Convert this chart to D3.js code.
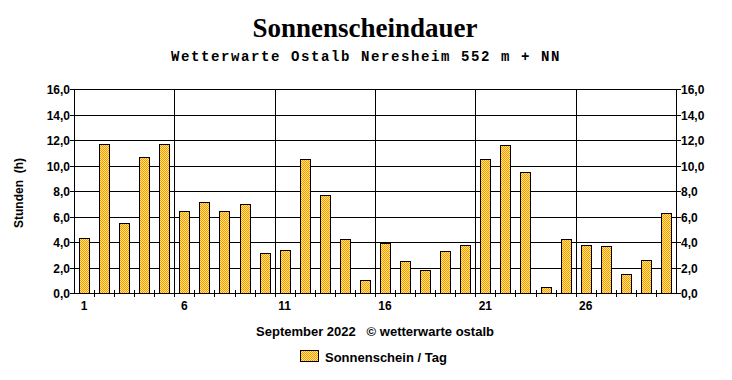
<!DOCTYPE html>
<html><head><meta charset="utf-8">
<script src="https://cdn.jsdelivr.net/npm/d3@7"></script>
<style>html,body{margin:0;padding:0;background:#fff;}svg{display:block;}</style>
</head><body>
<script>
const days = d3.range(1, 31);
const sunshine = [4.3, 11.7, 5.5, 10.7, 11.7, 6.4, 7.1, 6.4, 7.0, 3.1,
                  3.4, 10.5, 7.7, 4.2, 1.0, 3.9, 2.5, 1.8, 3.3, 3.8,
                  10.5, 11.6, 9.5, 0.5, 4.2, 3.8, 3.7, 1.5, 2.6, 6.3];
const yTicks = [0, 2, 4, 6, 8, 10, 12, 14, 16];
const xLabelDays = [1, 6, 11, 16, 21, 26];
const title = "Sonnenscheindauer";
const subtitle = "Wetterwarte Ostalb Neresheim 552 m + NN";
const yTitle = "Stunden  (h)";
const footer = "September 2022   \u00A9 wetterwarte ostalb";
const legendLabel = "Sonnenschein / Tag";

const W = 732, H = 380;
const L = 74, R = 676, T = 89, B = 293;

const svg = d3.select("body").append("svg").attr("width", W).attr("height", H);
const defs = svg.append("defs");
const pat = defs.append("pattern").attr("id", "chk").attr("width", 2).attr("height", 2)
  .attr("patternUnits", "userSpaceOnUse");
pat.append("rect").attr("width", 2).attr("height", 2).attr("fill", "#ffe680");
pat.append("rect").attr("width", 1).attr("height", 1).attr("fill", "#ff9900");
pat.append("rect").attr("x", 1).attr("y", 1).attr("width", 1).attr("height", 1).attr("fill", "#ff9900");

const x = d3.scaleBand().domain(days).range([L, R]).paddingInner(0.5).paddingOuter(0.25);
const y = d3.scaleLinear().domain([0, 16]).range([B, T]);
const step = x.step();
const edge = d => L + (d - 1) * step;

// horizontal gridlines
svg.append("g").selectAll("line").data(yTicks).join("line")
  .attr("x1", L).attr("x2", R)
  .attr("y1", d => Math.round(y(d)) + 0.5).attr("y2", d => Math.round(y(d)) + 0.5)
  .attr("stroke", "#000").attr("stroke-width", 1);
// vertical gridlines
svg.append("g").selectAll("line").data(xLabelDays.slice(1)).join("line")
  .attr("x1", d => Math.round(edge(d)) + 0.5).attr("x2", d => Math.round(edge(d)) + 0.5)
  .attr("y1", T).attr("y2", B)
  .attr("stroke", "#000");

// bars
svg.append("g").selectAll("rect").data(days).join("rect")
  .attr("x", d => Math.round(x(d)) + 0.5)
  .attr("width", Math.round(x.bandwidth()))
  .attr("y", (d, i) => Math.round(y(sunshine[i])) + 0.5)
  .attr("height", (d, i) => Math.round(y(0)) - Math.round(y(sunshine[i])))
  .attr("fill", "url(#chk)").attr("stroke", "#000").attr("stroke-width", 1);

// axes lines
svg.append("line").attr("x1", L + 0.5).attr("x2", L + 0.5).attr("y1", T).attr("y2", B + 1).attr("stroke", "#000");
svg.append("line").attr("x1", R + 0.5).attr("x2", R + 0.5).attr("y1", T).attr("y2", B + 1).attr("stroke", "#000");
svg.append("line").attr("x1", L).attr("x2", R + 1).attr("y1", B + 0.5).attr("y2", B + 0.5).attr("stroke", "#000");

// y ticks and labels
const fmt = d => d.toFixed(1).replace(".", ",");
const yl = svg.append("g");
yTicks.forEach(d => {
  const yy = Math.round(y(d)) + 0.5;
  yl.append("line").attr("x1", L - 4).attr("x2", L).attr("y1", yy).attr("y2", yy).attr("stroke", "#000");
  yl.append("line").attr("x1", R).attr("x2", R + 5).attr("y1", yy).attr("y2", yy).attr("stroke", "#000");
  yl.append("text").attr("x", L - 4).attr("y", yy + 4.5).attr("text-anchor", "end")
    .attr("font-family", "Liberation Sans, Arial, sans-serif").attr("font-weight", "bold").attr("font-size", 12).text(fmt(d));
  yl.append("text").attr("x", R + 5).attr("y", yy + 4.5).attr("text-anchor", "start")
    .attr("font-family", "Liberation Sans, Arial, sans-serif").attr("font-weight", "bold").attr("font-size", 12).text(fmt(d));
});

// x ticks at each day boundary
svg.append("g").selectAll("line").data(d3.range(2, 31)).join("line")
  .attr("x1", d => Math.round(edge(d)) + 0.5).attr("x2", d => Math.round(edge(d)) + 0.5)
  .attr("y1", B - 3).attr("y2", B + 4).attr("stroke", "#000");

// x labels
svg.append("g").selectAll("text").data(xLabelDays).join("text")
  .attr("x", d => x(d) + x.bandwidth() / 2).attr("y", B + 17)
  .attr("text-anchor", "middle")
  .attr("font-family", "Liberation Sans, Arial, sans-serif").attr("font-weight", "bold").attr("font-size", 12)
  .text(d => d);

// titles
svg.append("text").attr("x", 365).attr("y", 37).attr("text-anchor", "middle")
  .attr("font-family", "Liberation Serif, Times New Roman, serif").attr("font-weight", "bold").attr("font-size", 27)
  .text(title);
svg.append("text").attr("x", 366).attr("y", 61).attr("text-anchor", "middle")
  .attr("font-family", "Liberation Mono, Courier New, monospace").attr("font-weight", "bold").attr("font-size", 14)
  .attr("letter-spacing", 1.6)
  .text(subtitle);

// y axis title
svg.append("text").attr("transform", "translate(23,193) rotate(-90)").attr("text-anchor", "middle")
  .attr("font-family", "Liberation Sans, Arial, sans-serif").attr("font-weight", "bold").attr("font-size", 12)
  .style("white-space", "pre")
  .text(yTitle);

// footer
svg.append("text").attr("x", 375).attr("y", 336).attr("text-anchor", "middle")
  .attr("font-family", "Liberation Sans, Arial, sans-serif").attr("font-weight", "bold").attr("font-size", 13)
  .style("white-space", "pre")
  .text(footer);

// legend
svg.append("rect").attr("x", 300.5).attr("y", 350.5).attr("width", 18).attr("height", 11)
  .attr("fill", "url(#chk)").attr("stroke", "#000");
svg.append("text").attr("x", 325).attr("y", 362)
  .attr("font-family", "Liberation Sans, Arial, sans-serif").attr("font-weight", "bold").attr("font-size", 13)
  .text(legendLabel);
</script>
</body></html>
